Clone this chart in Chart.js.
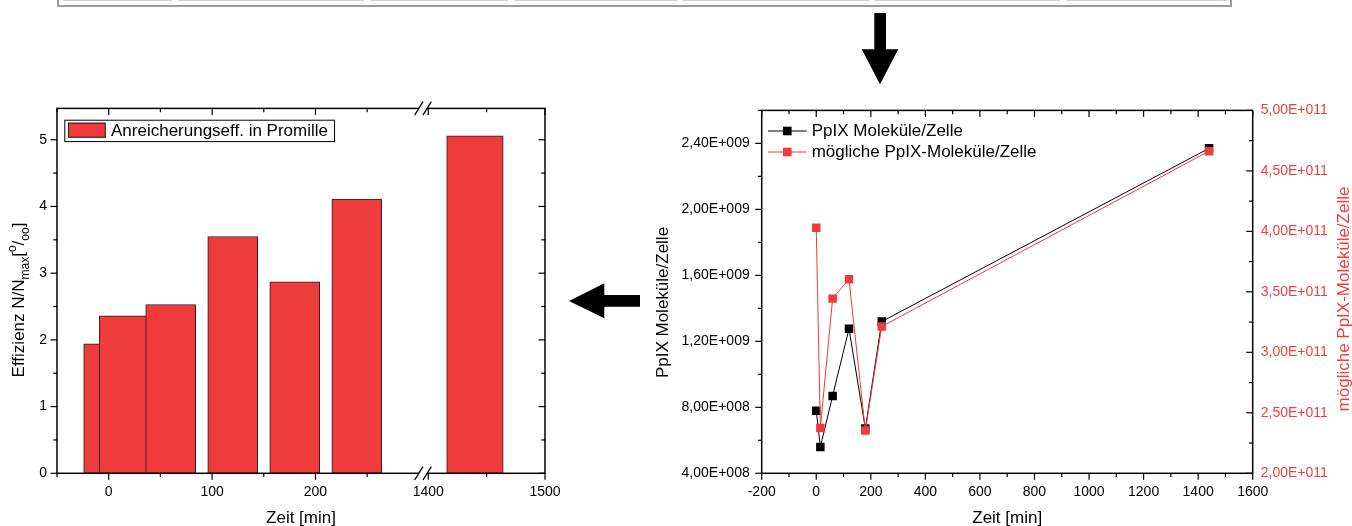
<!DOCTYPE html>
<html>
<head>
<meta charset="utf-8">
<title>PpIX Anreicherung</title>
<script src="https://cdn.jsdelivr.net/npm/chart.js@4.4.1/dist/chart.umd.min.js"></script>
<style>
  html, body { margin: 0; padding: 0; background: #fff; }
  body { width: 1352px; height: 526px; position: relative; overflow: hidden; }
  canvas { position: absolute; }
  #effChart { left: 0; top: 90px; }
  #molChart { left: 640px; top: 90px; }
  .tbl { position: absolute; left: 57px; top: -10px; width: 1171px; height: 15px;
         border: 2px solid #9a9ca6; border-top: none; }
  .cell { position: absolute; top: 0; height: 1px; background: #d2d3da; }
  svg.arrows { position: absolute; left: 0; top: 0; pointer-events: none; }
</style>
</head>
<body>
<div class="tbl"></div>
<div class="cell" style="left:63px;width:109px"></div>
<div class="cell" style="left:178px;width:186px"></div>
<div class="cell" style="left:371px;width:137px"></div>
<div class="cell" style="left:515px;width:162px"></div>
<div class="cell" style="left:683px;width:186px"></div>
<div class="cell" style="left:875px;width:185px"></div>
<div class="cell" style="left:1067px;width:160px"></div>

<canvas id="effChart" width="610" height="436"></canvas>
<canvas id="molChart" width="712" height="436"></canvas>

<svg class="arrows" width="1352" height="526">
  <polygon points="874.3,13 886,13 886,49.3 898.3,49.3 880,84.3 861.7,49.3 874.3,49.3" fill="#000"/>
  <polygon points="569,301 604.3,283.3 604.3,295 640,295 640,306.7 604.3,306.7 604.3,318.3" fill="#000"/>
</svg>

<script>
// Sampling times in minutes, shared by both panels
const timeMin = [0, 15, 60, 120, 180, 240, 1440];
// Enrichment efficiency N/Nmax in per mille
const efficiency = [1.94, 2.36, 2.53, 3.55, 2.87, 4.11, 5.06];
// PpIX molecules per cell (left axis of the right panel)
const ppixPerCell = [7.79e8, 5.60e8, 8.69e8, 1.276e9, 6.71e8, 1.32e9, 2.37e9];
// Possible PpIX molecules per cell (right axis of the right panel)
const possiblePerCell = [4.03e11, 2.374e11, 3.444e11, 3.605e11, 2.353e11, 3.214e11, 4.663e11];

// Tick values (labelled and minor)
const effTimeTicks = [0, 100, 200, 1400, 1500];
const effTimeMinor = [-50, 50, 150, 250, 1450];
const effTicks = [0, 1, 2, 3, 4, 5];
const effMinor = [0.5, 1.5, 2.5, 3.5, 4.5];
const molTimeTicks = [-200, 0, 200, 400, 600, 800, 1000, 1200, 1400, 1600];
const molTimeMinor = [-100, 100, 300, 500, 700, 900, 1100, 1300, 1500];
const ppixTicks = [4e8, 8e8, 1.2e9, 1.6e9, 2.0e9, 2.4e9];
const ppixMinor = [6e8, 1.0e9, 1.4e9, 1.8e9, 2.2e9, 2.6e9];
const possibleTicks = [2e11, 2.5e11, 3e11, 3.5e11, 4e11, 4.5e11, 5e11];
const possibleMinor = [2.25e11, 2.75e11, 3.25e11, 3.75e11, 4.25e11, 4.75e11];

// Broken time axis: value ranges and the share of the axis length they get
const timeSegments = [
  { min: -50, max: 304, start: 0, end: 0.75 },
  { min: 1395.5, max: 1500, start: 0.75, end: 1 }
];

const FONT = "'Liberation Sans', Arial, sans-serif";
const RED = '#ee3b3b';
const RED_TEXT = '#f03e3e';
Chart.defaults.font.family = FONT;
Chart.defaults.color = '#000';

// Linear scale with an axis break between the segments
class BrokenLinearScale extends Chart.LinearScale {
  toDecimal(v) {
    const segs = timeSegments;
    let s = segs[segs.length - 1];
    for (const seg of segs) { if (v <= seg.max) { s = seg; break; } }
    let t = (v - s.min) / (s.max - s.min);
    if (s !== segs[0]) t = Math.max(t, 0);
    return s.start + t * (s.end - s.start);
  }
  getPixelForValue(value) {
    if (value === null || value === undefined || isNaN(value)) return NaN;
    return this.getPixelForDecimal(this.toDecimal(value));
  }
  getValueForPixel(pixel) {
    const d = this.getDecimalForPixel(pixel);
    for (const s of timeSegments) {
      if (d <= s.end) return s.min + (d - s.start) / (s.end - s.start) * (s.max - s.min);
    }
    const last = timeSegments[timeSegments.length - 1];
    return last.max;
  }
}
BrokenLinearScale.id = 'brokenLinear';
BrokenLinearScale.defaults = {};
Chart.register(BrokenLinearScale);

function sciLabel(v) {
  const [m, e] = Number(v).toExponential(2).split('e');
  const n = parseInt(e, 10);
  return m.replace('.', ',') + 'E' + (n < 0 ? '-' : '+') + String(Math.abs(n)).padStart(3, '0');
}

function fixedTicks(values) {
  return scale => { scale.ticks = values.map(v => ({ value: v })); };
}

// Axis frame with major/minor tick marks; dir 1 = outward, -1 = inward
function makeFrame(specs) {
  return {
    id: 'frame',
    afterDatasetsDraw(chart) {
      const { ctx, chartArea: a } = chart;
      ctx.save();
      ctx.strokeStyle = '#000';
      ctx.lineWidth = 1.5;
      ctx.strokeRect(a.left, a.top, a.right - a.left, a.bottom - a.top);
      ctx.lineWidth = 1.2;
      specs.forEach(t => {
        const scale = chart.scales[t.scale];
        const mark = (vals, len) => vals.forEach(v => {
          const p = scale.getPixelForValue(v);
          const d = t.dir * len;
          ctx.beginPath();
          if (t.edge === 'bottom') { ctx.moveTo(p, a.bottom); ctx.lineTo(p, a.bottom + d); }
          if (t.edge === 'top') { ctx.moveTo(p, a.top); ctx.lineTo(p, a.top - d); }
          if (t.edge === 'left') { ctx.moveTo(a.left, p); ctx.lineTo(a.left - d, p); }
          if (t.edge === 'right') { ctx.moveTo(a.right, p); ctx.lineTo(a.right + d, p); }
          ctx.stroke();
        });
        mark(t.major, 6.5);
        mark(t.minor, 3.8);
      });
      ctx.restore();
    }
  };
}

// Text made of runs with sub-/superscript shifts, optionally rotated
function drawRich(ctx, parts, cx, cy, rotate, color) {
  ctx.save();
  ctx.translate(cx, cy);
  if (rotate) ctx.rotate(-Math.PI / 2);
  ctx.fillStyle = color || '#000';
  ctx.textBaseline = 'middle';
  ctx.textAlign = 'left';
  let total = 0;
  parts.forEach(p => { ctx.font = p.size + 'px ' + FONT; p.w = ctx.measureText(p.text).width; total += p.w; });
  let x = -total / 2;
  parts.forEach(p => { ctx.font = p.size + 'px ' + FONT; ctx.fillText(p.text, x, p.shift || 0); x += p.w; });
  ctx.restore();
}

// ---------- left panel: enrichment efficiency bars ----------
const splitAt = timeSegments[0].max;
const effPoints = timeMin.map((t, i) => ({ x: t, y: efficiency[i] }));
const effLabel = 'Anreicherungseff. in Promille';

const breakMarks = {
  id: 'breakMarks',
  afterDatasetsDraw(chart) {
    const { ctx, chartArea: a } = chart;
    const p = chart.scales.x.getPixelForDecimal(timeSegments[0].end);
    ctx.save();
    [a.top, a.bottom].forEach(y => {
      ctx.fillStyle = '#fff';
      ctx.beginPath();
      ctx.moveTo(p - 8.3, y + 6.7); ctx.lineTo(p, y - 6.7);
      ctx.lineTo(p + 8.3, y - 6.7); ctx.lineTo(p, y + 6.7);
      ctx.closePath();
      ctx.fill();
      ctx.strokeStyle = '#000';
      ctx.lineWidth = 1.3;
      ctx.beginPath();
      ctx.moveTo(p - 8.3, y + 6.7); ctx.lineTo(p, y - 6.7);
      ctx.moveTo(p, y + 6.7); ctx.lineTo(p + 8.3, y - 6.7);
      ctx.stroke();
    });
    ctx.restore();
  }
};

const effDecor = {
  id: 'effDecor',
  afterDraw(chart) {
    const { ctx, chartArea: a } = chart;
    // legend box
    const ds = chart.data.datasets[0];
    const bx = a.left + 7.3, by = a.top + 11.3, bh = 21.4;
    ctx.save();
    ctx.font = '17px ' + FONT;
    const tw = ctx.measureText(ds.label).width;
    const bw = 46.7 + tw + 6;
    ctx.fillStyle = '#fff';
    ctx.fillRect(bx, by, bw, bh);
    ctx.strokeStyle = '#000';
    ctx.lineWidth = 1;
    ctx.strokeRect(bx + 0.5, by + 0.5, bw, bh);
    ctx.fillStyle = ds.backgroundColor;
    ctx.fillRect(bx + 3.7, by + 3, 37.7, 15);
    ctx.strokeStyle = ds.borderColor;
    ctx.strokeRect(bx + 4.2, by + 3.5, 36.7, 14);
    ctx.fillStyle = '#000';
    ctx.textBaseline = 'middle';
    ctx.fillText(ds.label, bx + 46.7, by + bh / 2 + 0.5);
    ctx.restore();
    // axis titles
    drawRich(ctx, [{ text: 'Zeit [min]', size: 17 }], (a.left + a.right) / 2, 428, false);
    drawRich(ctx, [
      { text: 'Effizienz N/N', size: 17 },
      { text: 'max', size: 12, shift: 7 },
      { text: '[', size: 17 },
      { text: 'o', size: 12, shift: -6 },
      { text: '/', size: 17 },
      { text: 'oo', size: 12, shift: 7 },
      { text: ']', size: 17 }
    ], 19, 210, true);
  }
};

new Chart(document.getElementById('effChart'), {
  type: 'bar',
  data: {
    datasets: [
      { label: effLabel, data: effPoints.filter(p => p.x <= splitAt), backgroundColor: RED,
        borderColor: '#2a1a1a', borderWidth: 1, borderSkipped: false, barThickness: 50, grouped: false },
      { label: effLabel, data: effPoints.filter(p => p.x > splitAt), backgroundColor: RED,
        borderColor: '#2a1a1a', borderWidth: 1, borderSkipped: false, barThickness: 56.5, grouped: false }
    ]
  },
  options: {
    responsive: false, animation: false, events: [],
    layout: { padding: { top: 18, right: 65, bottom: 12.7, left: 0 } },
    scales: {
      x: {
        type: 'brokenLinear', min: -50, max: 1500, offset: false,
        grid: { display: false, drawTicks: false }, border: { display: false },
        ticks: { padding: 10, font: { size: 14 }, color: '#000', autoSkip: false, maxRotation: 0,
                 callback: v => String(v) },
        afterBuildTicks: fixedTicks(effTimeTicks),
        afterFit: s => { s.height = 40; }
      },
      y: {
        type: 'linear', min: 0, max: 5.47,
        grid: { display: false, drawTicks: false }, border: { display: false },
        ticks: { padding: 10, font: { size: 14 }, color: '#000', autoSkip: false, callback: v => String(v) },
        afterBuildTicks: fixedTicks(effTicks),
        afterFit: s => { s.width = 57; }
      }
    },
    plugins: { legend: { display: false }, tooltip: { enabled: false } }
  },
  plugins: [
    makeFrame([
      { scale: 'x', edge: 'bottom', dir: 1, major: effTimeTicks, minor: effTimeMinor },
      { scale: 'x', edge: 'top', dir: -1, major: effTimeTicks, minor: effTimeMinor },
      { scale: 'y', edge: 'left', dir: 1, major: effTicks, minor: effMinor },
      { scale: 'y', edge: 'right', dir: -1, major: effTicks, minor: effMinor }
    ]),
    breakMarks, effDecor
  ]
});

// ---------- right panel: molecules per cell ----------
const molDecor = {
  id: 'molDecor',
  afterDraw(chart) {
    const { ctx, chartArea: a } = chart;
    const rows = [chart.data.datasets[1], chart.data.datasets[0]];
    ctx.save();
    rows.forEach((ds, i) => {
      const y = a.top + 20.6 + i * 21;
      ctx.strokeStyle = ds.borderColor;
      ctx.lineWidth = 1;
      ctx.beginPath();
      ctx.moveTo(a.left + 6.3, y); ctx.lineTo(a.left + 45, y);
      ctx.stroke();
      ctx.fillStyle = ds.pointBackgroundColor;
      ctx.fillRect(a.left + 25.6 - 4.3, y - 4.3, 8.6, 8.6);
      ctx.fillStyle = '#000';
      ctx.font = '17px ' + FONT;
      ctx.textBaseline = 'middle';
      ctx.fillText(ds.label, a.left + 50, y + 0.5);
    });
    ctx.restore();
    drawRich(ctx, [{ text: 'Zeit [min]', size: 17 }], (a.left + a.right) / 2, 428, false);
    drawRich(ctx, [{ text: 'PpIX Moleküle/Zelle', size: 17 }], 23.6, 212.5, true);
    drawRich(ctx, [{ text: 'mögliche PpIX-Moleküle/Zelle', size: 17 }], 704, 209, true, RED_TEXT);
  }
};

new Chart(document.getElementById('molChart'), {
  type: 'line',
  data: {
    datasets: [
      { label: 'mögliche PpIX-Moleküle/Zelle', yAxisID: 'y2', order: 0,
        data: timeMin.map((t, i) => ({ x: t, y: possiblePerCell[i] })),
        borderColor: RED, borderWidth: 1, tension: 0,
        pointStyle: 'rect', pointRadius: 6, pointBorderWidth: 0, pointBackgroundColor: RED },
      { label: 'PpIX Moleküle/Zelle', yAxisID: 'y', order: 1,
        data: timeMin.map((t, i) => ({ x: t, y: ppixPerCell[i] })),
        borderColor: '#000', borderWidth: 1, tension: 0,
        pointStyle: 'rect', pointRadius: 6, pointBorderWidth: 0, pointBackgroundColor: '#000' }
    ]
  },
  options: {
    responsive: false, animation: false, events: [],
    layout: { padding: { top: 17.7, right: 0, bottom: 12.7, left: 0 } },
    scales: {
      x: {
        type: 'linear', min: -200, max: 1600,
        grid: { display: false, drawTicks: false }, border: { display: false },
        ticks: { padding: 10, font: { size: 14 }, color: '#000', autoSkip: false, maxRotation: 0,
                 callback: v => String(v) },
        afterBuildTicks: fixedTicks(molTimeTicks),
        afterFit: s => { s.height = 40; }
      },
      y: {
        type: 'linear', position: 'left', min: 4e8, max: 2.6e9,
        grid: { display: false, drawTicks: false }, border: { display: false },
        ticks: { padding: 12, font: { size: 14 }, color: '#000', autoSkip: false, callback: sciLabel },
        afterBuildTicks: fixedTicks(ppixTicks),
        afterFit: s => { s.width = 121.7; }
      },
      y2: {
        type: 'linear', position: 'right', min: 2e11, max: 5e11,
        grid: { display: false, drawTicks: false }, border: { display: false },
        ticks: { padding: 8, font: { size: 14 }, color: RED_TEXT, autoSkip: false, callback: sciLabel },
        afterBuildTicks: fixedTicks(possibleTicks),
        afterFit: s => { s.width = 99.3; }
      }
    },
    plugins: { legend: { display: false }, tooltip: { enabled: false } }
  },
  plugins: [
    makeFrame([
      { scale: 'x', edge: 'bottom', dir: 1, major: molTimeTicks, minor: molTimeMinor },
      { scale: 'x', edge: 'top', dir: -1, major: molTimeTicks, minor: molTimeMinor },
      { scale: 'y', edge: 'left', dir: 1, major: ppixTicks, minor: ppixMinor },
      { scale: 'y2', edge: 'right', dir: -1, major: possibleTicks, minor: possibleMinor }
    ]),
    molDecor
  ]
});
</script>
</body>
</html>
